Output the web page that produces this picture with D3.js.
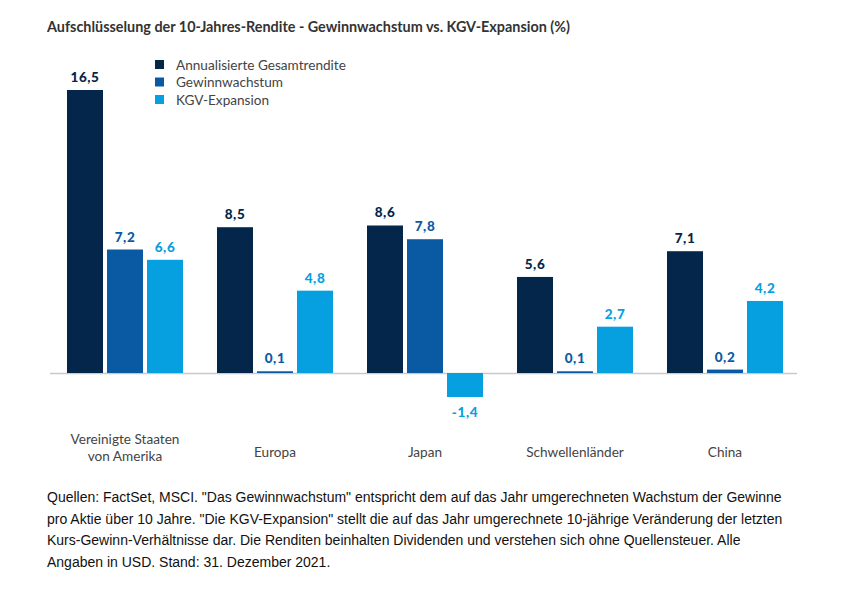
<!DOCTYPE html>
<html><head><meta charset="utf-8">
<script src="https://cdn.jsdelivr.net/npm/d3@7"></script>
<style>
html,body{margin:0;padding:0;background:#fff;}
</style></head>
<body>
<svg id="chart" width="853" height="590"></svg>
<script>
const categories = [["Vereinigte Staaten","von Amerika"],["Europa"],["Japan"],["Schwellenländer"],["China"]];
const categoryKeys = ["USA","Europa","Japan","Schwellenländer","China"];
const seriesNames = ["Annualisierte Gesamtrendite","Gewinnwachstum","KGV-Expansion"];
const totalReturn = [16.5, 8.5, 8.6, 5.6, 7.1];
const earningsGrowth = [7.2, 0.1, 7.8, 0.1, 0.2];
const peExpansion = [6.6, 4.8, -1.4, 2.7, 4.2];
const colors = ["#04264a","#0a5aa3","#06a0e0"];
const title = "Aufschlüsselung der 10-Jahres-Rendite - Gewinnwachstum vs. KGV-Expansion (%)";
const footLines = [
  "Quellen: FactSet, MSCI. \"Das Gewinnwachstum\" entspricht dem auf das Jahr umgerechneten Wachstum der Gewinne",
  "pro Aktie über 10 Jahre. \"Die KGV-Expansion\" stellt die auf das Jahr umgerechnete 10-jährige Veränderung der letzten",
  "Kurs-Gewinn-Verhältnisse dar. Die Renditen beinhalten Dividenden und verstehen sich ohne Quellensteuer. Alle",
  "Angaben in USD. Stand: 31. Dezember 2021."
];
const seriesValues = [totalReturn, earningsGrowth, peExpansion];

const svg = d3.select("#chart");
const x0 = d3.scaleBand().domain(categoryKeys).range([50, 800]).paddingInner(0).paddingOuter(0);
const x1 = d3.scaleBand().domain(seriesNames).range([0, 116]).paddingInner(0.1).paddingOuter(0);
const y = d3.scaleLinear().domain([0, 16.5]).range([373, 90]);
const groupOffset = (x0.bandwidth() - 116) / 2;
const fmt = v => d3.format(".1f")(v).replace(".", ",").replace("\u2212", "-");

svg.append("text").attr("x", 47).attr("y", 32)
  .attr("font-family", "Lato, 'Open Sans', sans-serif").attr("font-weight", 700)
  .attr("font-size", 14.4).attr("fill", "#333").text(title);

// legend
const leg = svg.append("g");
seriesNames.forEach((s, i) => {
  const yy = 65 + i * 17.5;
  leg.append("rect").attr("x", 155).attr("y", yy - 5).attr("width", 9).attr("height", 9).attr("fill", colors[i]);
  leg.append("text").attr("x", 176).attr("y", yy).attr("dy", "0.35em")
    .attr("font-family", "Lato, sans-serif").attr("font-size", 13.6).attr("fill", "#444").text(s);
});

// baseline
svg.append("line").attr("x1", 50).attr("x2", 797).attr("y1", y(0) + 0.5).attr("y2", y(0) + 0.5)
  .attr("stroke", "#c9c9c9").attr("stroke-width", 1.5);

const data = [];
categoryKeys.forEach((c, ci) => seriesNames.forEach((s, si) => data.push({c, s, si, v: seriesValues[si][ci]})));

const g = svg.append("g");
g.selectAll("rect.bar").data(data).join("rect").attr("class", "bar")
  .attr("x", d => x0(d.c) + groupOffset + x1(d.s))
  .attr("width", x1.bandwidth())
  .attr("y", d => d.v >= 0 ? y(d.v) : y(0))
  .attr("height", d => Math.max(Math.abs(y(d.v) - y(0)), 1.5))
  .attr("fill", d => colors[d.si]);

g.selectAll("text.val").data(data).join("text").attr("class", "val")
  .attr("x", d => x0(d.c) + groupOffset + x1(d.s) + x1.bandwidth() / 2)
  .attr("y", d => d.v >= 0 ? y(d.v) - 8 : y(d.v) + 20)
  .attr("text-anchor", "middle")
  .attr("font-family", "Lato, sans-serif").attr("font-weight", 900).attr("font-size", 13.5)
  .attr("letter-spacing", 0.6)
  .attr("fill", d => colors[d.si]).text(d => fmt(d.v));

// category labels
categoryKeys.forEach((c, ci) => {
  const lines = categories[ci];
  const t = svg.append("text").attr("x", x0(c) + x0.bandwidth() / 2).attr("text-anchor", "middle")
    .attr("font-family", "Lato, sans-serif").attr("font-size", 13.6).attr("fill", "#444");
  const startY = lines.length === 2 ? 444 : 457;
  lines.forEach((l, li) => t.append("tspan").attr("x", x0(c) + x0.bandwidth() / 2).attr("y", startY + li * 17).text(l));
});

// footnote
const ft = svg.append("text").attr("font-family", "'Liberation Sans', Arial, sans-serif").attr("font-size", 14).attr("fill", "#111");
footLines.forEach((l, i) => ft.append("tspan").attr("x", 47).attr("y", 502 + i * 21.5).text(l));
</script>
</body></html>
